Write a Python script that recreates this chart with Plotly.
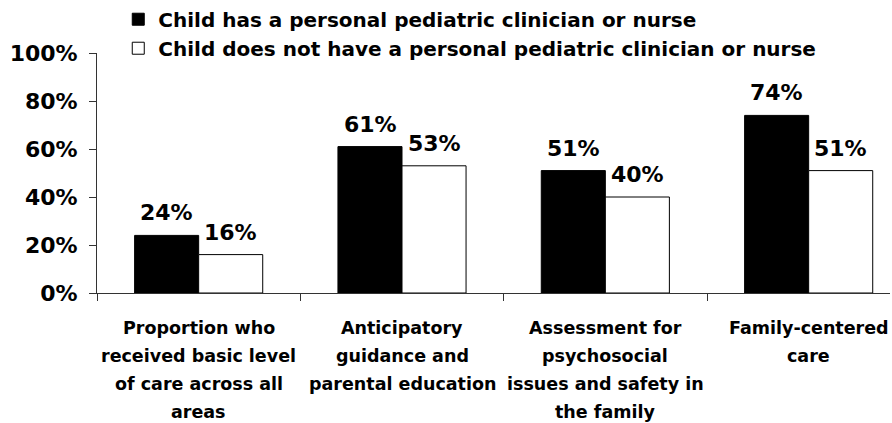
import plotly.graph_objects as go

categories = [
    "Proportion who<br>received basic level<br>of care across all<br>areas",
    "Anticipatory<br>guidance and<br>parental education",
    "Assessment for<br>psychosocial<br>issues and safety in<br>the family",
    "Family-centered<br>care",
]
series_names = [
    "Child has a personal pediatric clinician or nurse",
    "Child does not have a personal pediatric clinician or nurse",
]
has_clinician = [24, 61, 51, 74]
no_clinician = [16, 53, 40, 51]
y_ticks = [0, 20, 40, 60, 80, 100]
y_ticklabels = ["0%", "20%", "40%", "60%", "80%", "100%"]

FONT = "DejaVu Sans"
BAR_HALF_PX = 32

fig = go.Figure()
fig.add_trace(go.Bar(
    x=categories, y=has_clinician, name=series_names[0],
    marker=dict(color="black", line=dict(color="black", width=1)),
    legendgroup="a",
))
fig.add_trace(go.Bar(
    x=categories, y=no_clinician, name=series_names[1],
    marker=dict(color="white", line=dict(color="black", width=1)),
    legendgroup="b",
))

annotations = []
for values, sign in ((has_clinician, -1), (no_clinician, 1)):
    for cat, v in zip(categories, values):
        annotations.append(dict(
            x=cat, y=v, xref="x", yref="y", text=f"<b>{v}%</b>",
            showarrow=False, yanchor="bottom", xanchor="center",
            xshift=sign * BAR_HALF_PX, yshift=8,
            font=dict(family=FONT, size=22, color="black"),
        ))
for cat in categories:
    for i, line in enumerate(cat.split("<br>")):
        annotations.append(dict(
            x=cat, y=0, xref="x", yref="y", text="<b>" + line + "</b>",
            showarrow=False, yanchor="middle", xanchor="center",
            yshift=-(35 + 28 * i),
            font=dict(family=FONT, size=17.5, color="black"),
        ))

fig.update_layout(
    width=892, height=423,
    margin=dict(l=97, r=2, t=53, b=130, autoexpand=False),
    paper_bgcolor="white", plot_bgcolor="white",
    barmode="group", bargap=0.37, bargroupgap=0,
    font=dict(family=FONT, color="black"),
    showlegend=True,
    legend=dict(
        x=0.0268, xanchor="left", y=1.222, yanchor="top",
        font=dict(family=FONT, size=20, color="black", weight="bold"),
        bgcolor="rgba(0,0,0,0)", tracegroupgap=6, traceorder="normal",
    ),
    annotations=annotations,
)
fig.update_xaxes(
    range=[-0.5, 3.4], showline=True, linecolor="#333", linewidth=1,
    ticks="outside", ticklen=7, tickcolor="#333", tickson="boundaries",
    showticklabels=False, showgrid=False, zeroline=False, automargin=False,
)
fig.update_yaxes(
    range=[0, 100], tickvals=y_ticks, ticktext=y_ticklabels,
    showline=True, linecolor="#333", linewidth=1,
    ticks="outside", ticklen=7, tickcolor="#333", ticklabelstandoff=7,
    tickfont=dict(family=FONT, size=22, color="black", weight="bold"),
    showgrid=False, zeroline=False, automargin=False,
)
fig.write_html(
    "out.html",
    config={"displayModeBar": False},
    post_script="document.body.style.margin='0';document.body.style.overflow='hidden';",
)
